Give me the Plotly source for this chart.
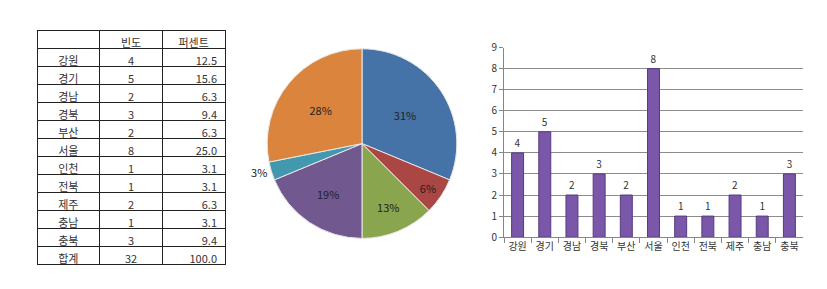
import plotly.graph_objects as go

regions = ["강원", "경기", "경남", "경북", "부산", "서울", "인천", "전북", "제주", "충남", "충북"]
freq = [4, 5, 2, 3, 2, 8, 1, 1, 2, 1, 3]
pct = [12.5, 15.6, 6.3, 9.4, 6.3, 25.0, 3.1, 3.1, 6.3, 3.1, 9.4]
total_freq = 32
total_pct = 100.0

pie_labels = ["그룹1", "그룹2", "그룹3", "그룹4", "그룹5", "그룹6"]
pie_values = [10, 2, 4, 6, 1, 9]
pie_colors = ["#4572A7", "#AA4643", "#89A54E", "#71588F", "#4198AF", "#DB843D"]

FONT = "Noto Sans CJK KR"
W, H = 827, 289

def px_x(p):
    return p / W

def px_y(p):
    return 1 - p / H

fig = go.Figure()

# Table
fig.add_trace(go.Table(
    domain=dict(x=[px_x(37), px_x(225)], y=[px_y(285), px_y(24)]),
    columnwidth=[1, 1, 1],
    header=dict(
        values=["", "빈도", "퍼센트"],
        align=["center", "center", "center"],
        line=dict(color="#222222", width=1),
        fill=dict(color="white"),
        font=dict(family=FONT, size=11, color="#333333"),
        height=18,
    ),
    cells=dict(
        values=[
            regions + ["합계"],
            [str(v) for v in freq] + [str(total_freq)],
            [f"{v:.1f}" for v in pct] + [f"{total_pct:.1f}"],
        ],
        align=["center", "center", "right"],
        line=dict(color="#222222", width=1),
        fill=dict(color="white"),
        font=dict(family=FONT, size=11, color="#333333"),
        height=18,
    ),
))

# Pie
positions = ["inside", "inside", "inside", "inside", "outside", "inside"]
fig.add_trace(go.Pie(
    labels=pie_labels,
    values=pie_values,
    sort=False,
    direction="clockwise",
    rotation=0,
    marker=dict(colors=pie_colors, line=dict(color="#E8E8E8", width=1)),
    textinfo="percent",
    texttemplate="%{percent:.0%}",
    textposition=positions,
    insidetextorientation="horizontal",
    textfont=dict(family=FONT, size=11, color="#222222"),
    showlegend=False,
    domain=dict(x=[px_x(262), px_x(462)], y=[px_y(243), px_y(43)]),
))

# Bar
fig.add_trace(go.Bar(
    x=regions,
    y=freq,
    text=[str(v) for v in freq],
    textposition="outside",
    textfont=dict(family=FONT, size=10, color="#333333"),
    marker=dict(color="#7B57A9", line=dict(color="#553A80", width=1)),
    cliponaxis=False,
    xaxis="x",
    yaxis="y",
    showlegend=False,
))

fig.update_layout(
    width=W,
    height=H,
    margin=dict(l=0, r=0, t=0, b=0),
    paper_bgcolor="white",
    plot_bgcolor="white",
    bargap=0.56,
    font=dict(family=FONT, color="#333333"),
    xaxis=dict(
        domain=[px_x(504), px_x(803)],
        showline=True,
        linecolor="#868686",
        ticks="outside",
        tickson="boundaries",
        ticklen=5,
        tickcolor="#868686",
        tickangle=0,
        tickfont=dict(family=FONT, size=10, color="#333333"),
        showgrid=False,
        anchor="y",
    ),
    yaxis=dict(
        domain=[px_y(241.7), px_y(41.7)],
        range=[0, 9],
        dtick=1,
        showline=True,
        linecolor="#868686",
        ticks="outside",
        ticklen=4,
        tickcolor="#868686",
        showgrid=True,
        gridcolor="#8C8C8C",
        gridwidth=1,
        zeroline=False,
        tickfont=dict(family=FONT, size=10, color="#333333"),
        anchor="x",
    ),
)

fig.write_html("out.html")
